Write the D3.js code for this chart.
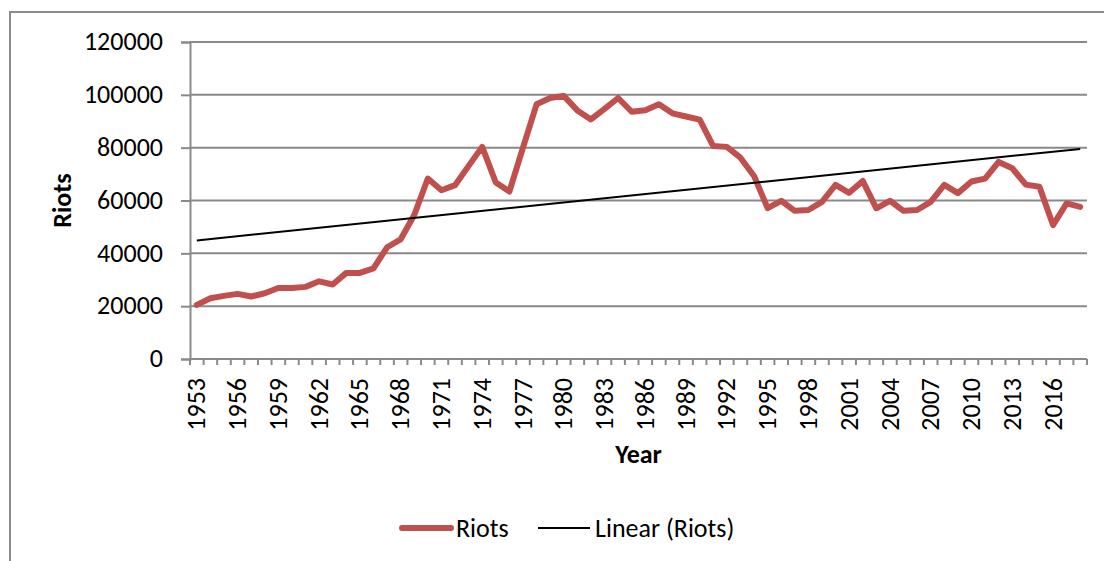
<!DOCTYPE html>
<html>
<head>
<meta charset="utf-8">
<script src="https://cdn.jsdelivr.net/npm/d3@7/dist/d3.min.js"></script>
<style>
  body { margin: 0; background: #fff; }
  text { font-family: Carlito, "Open Sans", Lato, sans-serif; fill: #000; }
</style>
</head>
<body>
<div id="chart"></div>
<script>
var years = [1953, 1954, 1955, 1956, 1957, 1958, 1959, 1960, 1961, 1962, 1963, 1964, 1965, 1966,
             1967, 1968, 1969, 1970, 1971, 1972, 1973, 1974, 1975, 1976, 1977, 1978, 1979, 1980,
             1981, 1982, 1983, 1984, 1985, 1986, 1987, 1988, 1989, 1990, 1991, 1992, 1993, 1994,
             1995, 1996, 1997, 1998, 1999, 2000, 2001, 2002, 2003, 2004, 2005, 2006, 2007, 2008,
             2009, 2010, 2011, 2012, 2013, 2014, 2015, 2016, 2017, 2018];

var riots = [20500, 23000, 23900, 24650, 23650, 24900, 26900, 26900, 27300, 29400, 28200, 32600, 32600, 34300,
             42300, 45300, 54500, 68300, 63900, 65800, 73100, 80300, 66800, 63400, 80000, 96400, 98800, 99600,
             94100, 90700, 94700, 98800, 93600, 94200, 96400, 93000, 91800, 90600, 80600, 80300, 76200, 69300,
             57100, 59900, 56100, 56400, 59500, 65900, 62900, 67400, 57000, 59900, 56100, 56400, 59500, 65900,
             62800, 67200, 68300, 74600, 72200, 66000, 65200, 50700, 58900, 57600];

var tickYears = [1953, 1956, 1959, 1962, 1965, 1968, 1971, 1974, 1977, 1980, 1983, 1986, 1989, 1992,
                 1995, 1998, 2001, 2004, 2007, 2010, 2013, 2016];

var yTicks = [0, 20000, 40000, 60000, 80000, 100000, 120000];

var margin = {top: 42, right: 17, bottom: 202, left: 190},
    width = 1104 - margin.left - margin.right,
    height = 561 - margin.top - margin.bottom;

var fontSize = "26px";

var svg = d3.select("#chart")
            .append("svg")
            .attr("width", 1104)
            .attr("height", 561);

// outer chart border (only left and top show in the crop)
svg.append("path")
   .attr("d", "M10,561 V12 H1104")
   .attr("fill", "none")
   .attr("stroke", "#8c8c8c")
   .attr("stroke-width", 2);

var chart = svg.append("g")
               .attr("transform", "translate(" + margin.left + "," + margin.top + ")");

var x = d3.scaleBand()
          .domain(years)
          .range([0, width]);

var y = d3.scaleLinear()
          .domain([0, 120000])
          .range([height, 0]);

// gridlines
chart.selectAll(".grid")
     .data(yTicks.slice(1))
     .enter()
     .append("line")
     .attr("class", "grid")
     .attr("x1", 0)
     .attr("x2", width)
     .attr("y1", function(d) { return y(d); })
     .attr("y2", function(d) { return y(d); })
     .attr("stroke", "#898989")
     .attr("stroke-width", 2);

// y axis
var yAxis = d3.axisLeft(y)
              .tickValues(yTicks)
              .tickSize(9)
              .tickPadding(18)
              .tickFormat(d3.format("d"));

var yg = chart.append("g").call(yAxis);
yg.select(".domain").attr("stroke", "#898989").attr("stroke-width", 2);
yg.selectAll(".tick line").attr("stroke", "#898989").attr("stroke-width", 2);
yg.selectAll(".tick text").style("font-size", fontSize).attr("dy", "0.3em");

// x axis: ticks between categories, labels only every third year
var xg = chart.append("g")
              .attr("transform", "translate(0," + height + ")");

xg.append("line")
  .attr("x1", 0).attr("x2", width)
  .attr("y1", 0).attr("y2", 0)
  .attr("stroke", "#898989")
  .attr("stroke-width", 2);

xg.selectAll(".xtick")
  .data(years.concat(["end"]))
  .enter()
  .append("line")
  .attr("class", "xtick")
  .attr("x1", function(d) { return d === "end" ? width : x(d); })
  .attr("x2", function(d) { return d === "end" ? width : x(d); })
  .attr("y1", 0)
  .attr("y2", 6)
  .attr("stroke", "#898989")
  .attr("stroke-width", 2);

xg.selectAll(".xlabel")
  .data(tickYears)
  .enter()
  .append("text")
  .attr("class", "xlabel")
  .attr("transform", function(d) {
      return "translate(" + (x(d) + x.bandwidth() / 2) + ",19) rotate(-90)";
  })
  .attr("text-anchor", "end")
  .attr("dy", "0.33em")
  .style("font-size", fontSize)
  .text(function(d) { return d; });

// linear trend (least squares over the series, as the spreadsheet does)
var n = riots.length;
var mx = d3.mean(riots, function(d, i) { return i; });
var my = d3.mean(riots);
var sxy = d3.sum(riots, function(d, i) { return (i - mx) * (d - my); });
var sxx = d3.sum(riots, function(d, i) { return (i - mx) * (i - mx); });
var slope = sxy / sxx;
var icpt = my - slope * mx;

var line = d3.line()
             .x(function(d, i) { return x(years[i]) + x.bandwidth() / 2; })
             .y(function(d) { return y(d); });

chart.append("path")
     .datum(riots)
     .attr("fill", "none")
     .attr("stroke", "#c0504d")
     .attr("stroke-width", 6)
     .attr("stroke-linejoin", "round")
     .attr("stroke-linecap", "round")
     .attr("d", line);

var trend = riots.map(function(d, i) { return icpt + slope * i; });
chart.append("path")
     .datum([trend[0], trend[n - 1]])
     .attr("fill", "none")
     .attr("stroke", "#000")
     .attr("stroke-width", 2)
     .attr("d", d3.line()
                  .x(function(d, i) { return x(years[i === 0 ? 0 : n - 1]) + x.bandwidth() / 2; })
                  .y(function(d) { return y(d); }));

// axis titles
chart.append("text")
     .attr("x", width / 2)
     .attr("y", height + 104)
     .attr("text-anchor", "middle")
     .style("font-size", fontSize)
     .style("font-weight", "bold")
     .text("Year");

chart.append("text")
     .attr("transform", "rotate(-90)")
     .attr("x", -height / 2)
     .attr("y", -119)
     .attr("text-anchor", "middle")
     .style("font-size", fontSize)
     .style("font-weight", "bold")
     .text("Riots");

// legend
var legend = svg.append("g").attr("transform", "translate(0,528)");
legend.append("line")
      .attr("x1", 402).attr("x2", 451)
      .attr("stroke", "#c0504d")
      .attr("stroke-width", 6)
      .attr("stroke-linecap", "round");
legend.append("text")
      .attr("x", 456).attr("dy", "0.33em")
      .style("font-size", fontSize)
      .text("Riots");
legend.append("line")
      .attr("x1", 538).attr("x2", 590)
      .attr("stroke", "#000")
      .attr("stroke-width", 2);
legend.append("text")
      .attr("x", 595).attr("dy", "0.33em")
      .style("font-size", fontSize)
      .text("Linear (Riots)");
</script>
</body>
</html>
